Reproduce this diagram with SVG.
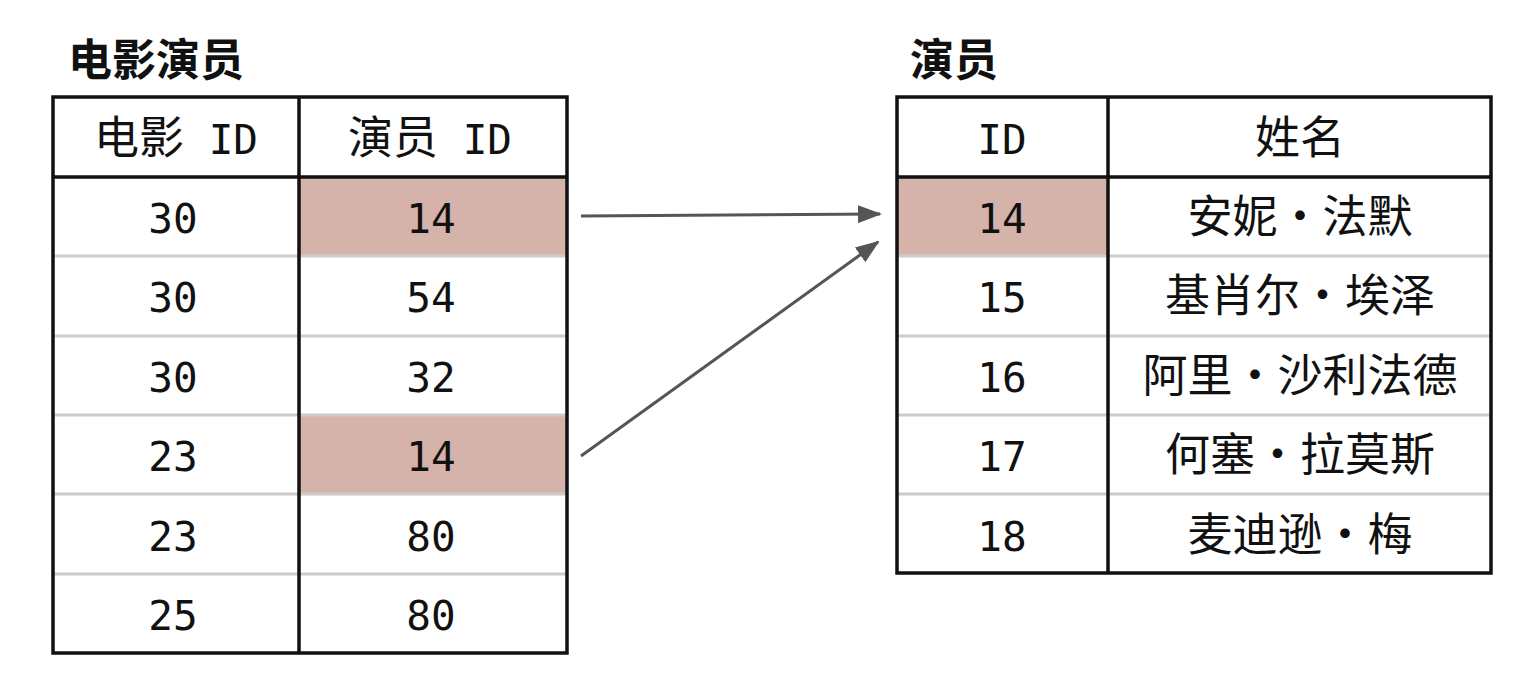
<svg xmlns="http://www.w3.org/2000/svg" width="1529" height="688" viewBox="0 0 1529 688">
<defs>
<style>
.t{font-family:"DejaVu Sans Mono","Noto Sans CJK SC",monospace;font-size:41px;fill:#111;text-anchor:middle}
.z{font-family:"Noto Sans CJK SC",sans-serif;font-size:45px}
.title{font-family:"Noto Sans CJK SC",sans-serif;font-size:44px;font-weight:bold;fill:#111}
.sep{stroke:#ccc;stroke-width:3}
.b{fill:none;stroke:#111;stroke-width:3.5}
.hl{fill:#d5b2aa}
.c{stroke:#555;stroke-width:3;fill:none;marker-end:url(#ah)}
</style>
<marker id="ah" markerWidth="24" markerHeight="18" refX="22" refY="9" orient="auto" markerUnits="userSpaceOnUse" viewBox="0 0 24 18"><path d="M0,0 L24,9 L0,18 z" fill="#555"/></marker>
</defs>
<rect width="1529" height="688" fill="#fff"/>
<g id="table-left">
<text class="title" x="68" y="76">电影演员</text>
<rect class="hl" x="300" y="178" width="266" height="78"/>
<rect class="hl" x="300" y="416" width="266" height="78"/>
<line class="sep" x1="53" y1="256" x2="567" y2="256"/>
<line class="sep" x1="53" y1="336" x2="567" y2="336"/>
<line class="sep" x1="53" y1="415" x2="567" y2="415"/>
<line class="sep" x1="53" y1="494" x2="567" y2="494"/>
<line class="sep" x1="53" y1="574" x2="567" y2="574"/>
<rect class="b" x="53" y="97" width="514" height="556"/>
<line class="b" x1="53" y1="177" x2="567" y2="177"/>
<line class="b" x1="299" y1="97" x2="299" y2="653"/>
<text class="t" x="176" y="154"><tspan class="z">电影</tspan> ID</text>
<text class="t" x="430" y="154"><tspan class="z">演员</tspan> ID</text>
<text class="t" x="173" y="233">30</text><text class="t" x="431" y="233">14</text>
<text class="t" x="173" y="312">30</text><text class="t" x="431" y="312">54</text>
<text class="t" x="173" y="392">30</text><text class="t" x="431" y="392">32</text>
<text class="t" x="173" y="471">23</text><text class="t" x="431" y="471">14</text>
<text class="t" x="173" y="551">23</text><text class="t" x="431" y="551">80</text>
<text class="t" x="173" y="630">25</text><text class="t" x="431" y="630">80</text>
</g>
<g id="table-right">
<text class="title" x="910" y="76">演员</text>
<rect class="hl" x="898" y="178" width="209" height="78"/>
<line class="sep" x1="897" y1="256" x2="1491" y2="256"/>
<line class="sep" x1="897" y1="336" x2="1491" y2="336"/>
<line class="sep" x1="897" y1="415" x2="1491" y2="415"/>
<line class="sep" x1="897" y1="494" x2="1491" y2="494"/>
<rect class="b" x="897" y="97" width="594" height="476"/>
<line class="b" x1="897" y1="177" x2="1491" y2="177"/>
<line class="b" x1="1108" y1="97" x2="1108" y2="573"/>
<text class="t" x="1002" y="154">ID</text>
<text class="t z" x="1300" y="154">姓名</text>
<text class="t" x="1002" y="233">14</text><text class="t z" x="1300" y="233">安妮·法默</text>
<text class="t" x="1002" y="312">15</text><text class="t z" x="1300" y="312">基肖尔·埃泽</text>
<text class="t" x="1002" y="392">16</text><text class="t z" x="1300" y="392">阿里·沙利法德</text>
<text class="t" x="1002" y="471">17</text><text class="t z" x="1300" y="471">何塞·拉莫斯</text>
<text class="t" x="1002" y="551">18</text><text class="t z" x="1300" y="551">麦迪逊·梅</text>
</g>
<g id="connectors">
<line class="c" x1="581" y1="216" x2="880" y2="214"/>
<line class="c" x1="581" y1="456" x2="878" y2="242"/>
</g>
</svg>
